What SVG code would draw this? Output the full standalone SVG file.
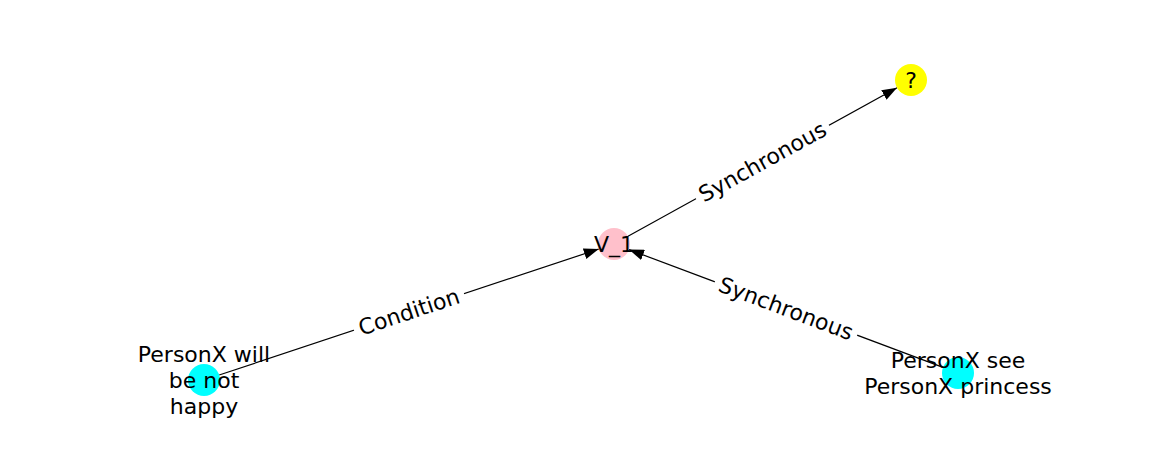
<svg xmlns="http://www.w3.org/2000/svg" width="1162" height="462" viewBox="0 0 1162 462">
<style>
text{font-family:"DejaVu Sans",sans-serif;font-size:22px;fill:#000;text-anchor:middle;dominant-baseline:central}
.edge{stroke:#000;stroke-width:1.2;fill:none}
.lbg{fill:#fff}
</style>
<defs>
<marker id="arr" viewBox="0 0 15 11" refX="15" refY="5.5" markerWidth="15" markerHeight="11" markerUnits="userSpaceOnUse" orient="auto">
<path d="M0,0 L15,5.5 L0,11 Z" fill="#000"/>
</marker>
</defs>
<rect width="1162" height="462" fill="#fff"/>
<g id="connectors">
<line class="edge" x1="219.2" y1="375.0" x2="598.8" y2="249.0" marker-end="url(#arr)"/>
<line class="edge" x1="628.0" y1="236.3" x2="897.0" y2="87.7" marker-end="url(#arr)"/>
<line class="edge" x1="943.0" y1="367.4" x2="629.0" y2="249.6" marker-end="url(#arr)"/>
<g transform="translate(409,312) rotate(-18.35)"><rect class="lbg" x="-58" y="-15" width="116" height="30"/><text x="0" y="0">Condition</text></g>
<g transform="translate(762.5,162) rotate(-28.9)"><rect class="lbg" x="-76" y="-15" width="152" height="30"/><text x="0" y="0">Synchronous</text></g>
<g transform="translate(786,308.5) rotate(20.56)"><rect class="lbg" x="-76" y="-15" width="152" height="30"/><text x="0" y="0">Synchronous</text></g>
</g>
<g id="node-v1"><circle cx="614" cy="244" r="16" fill="#ffc0cb"/><text x="614" y="244">V_1</text></g>
<g id="node-q"><circle cx="911" cy="80" r="16" fill="#ffff00"/><text x="911" y="80">?</text></g>
<g id="node-happy"><circle cx="204" cy="380" r="16" fill="#00ffff"/><text x="204" y="380"><tspan x="204" dy="-26.4">PersonX will</tspan><tspan x="204" dy="26.4">be not</tspan><tspan x="204" dy="26.4">happy</tspan></text></g>
<g id="node-princess"><circle cx="958" cy="373" r="16" fill="#00ffff"/><text x="958" y="373"><tspan x="958" dy="-13.2">PersonX see</tspan><tspan x="958" dy="26.4">PersonX princess</tspan></text></g>
</svg>
